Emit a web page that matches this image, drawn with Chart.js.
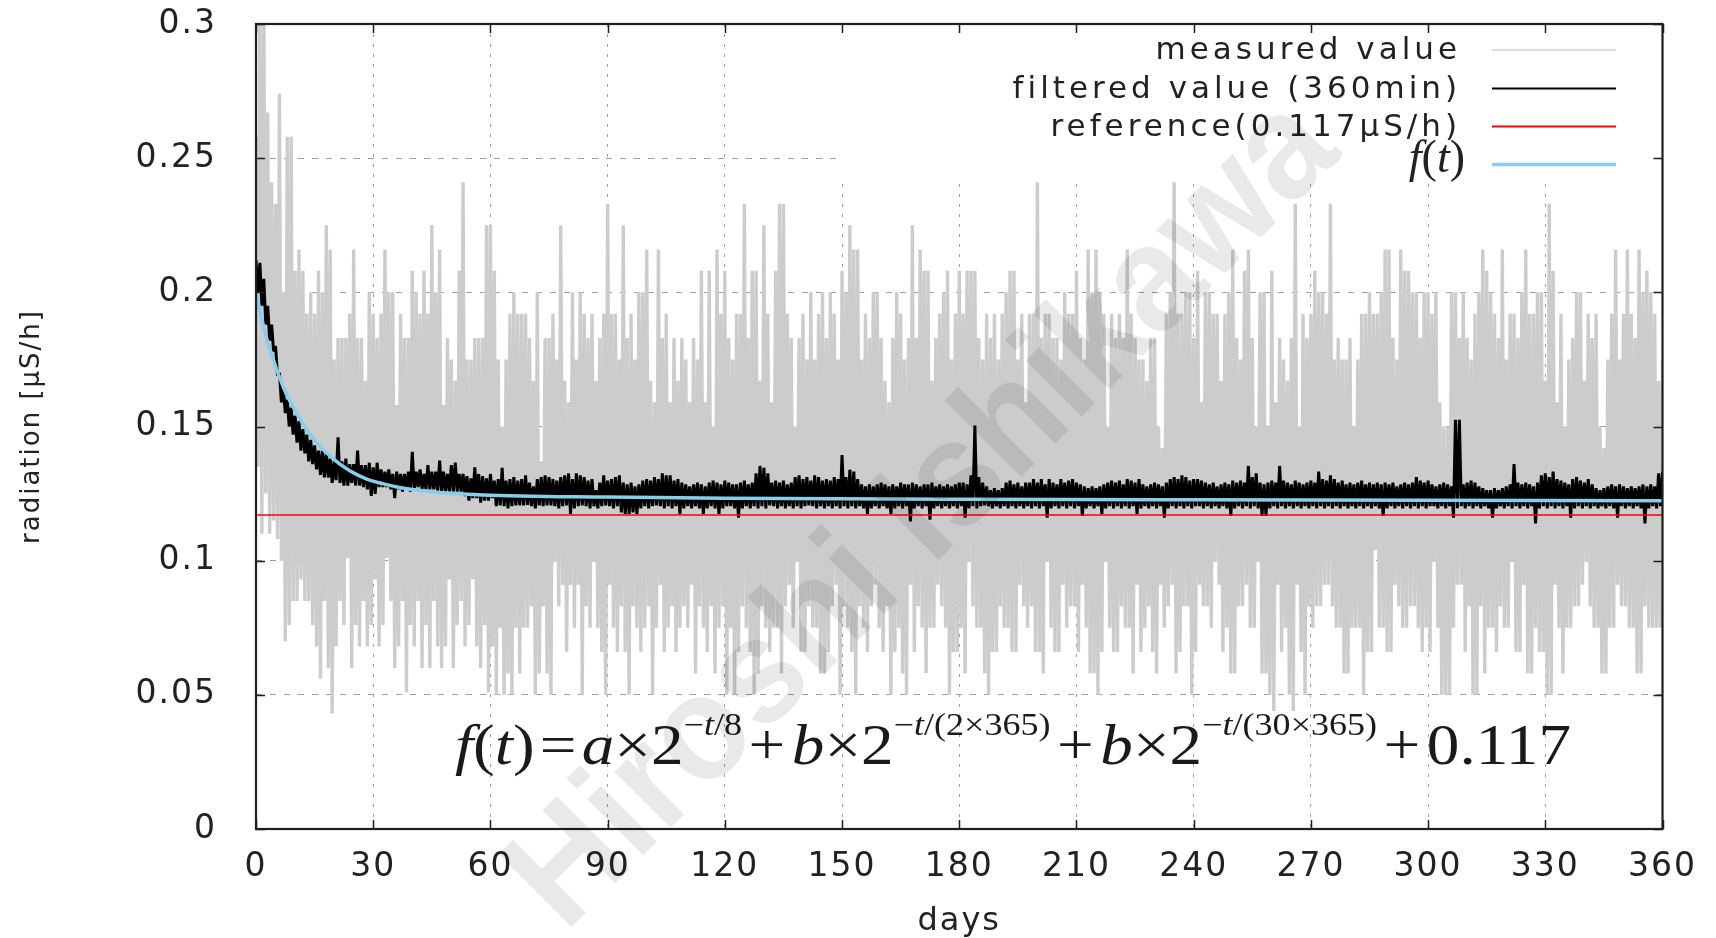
<!DOCTYPE html>
<html><head><meta charset="utf-8">
<script src="https://cdn.jsdelivr.net/npm/chart.js@4.4.1/dist/chart.umd.min.js"></script>
<style>html,body{margin:0;padding:0;background:#fff}canvas{display:block}</style>
</head><body>
<canvas id="c" width="1716" height="938"></canvas>
<script>
// ---------- data ----------
const xTickValues = [0,30,60,90,120,150,180,210,240,270,300,330,360];
const xTickLabels = ['0','30','60','90','120','150','180','210','240','270','300','330','360'];
const yTickValues = [0,0.05,0.1,0.15,0.2,0.25,0.3];
const yTickLabels = ['0','0.05','0.1','0.15','0.2','0.25','0.3'];
const seriesLabels = ['measured value','filtered value (360min)','reference(0.117\u03bcS/h)','f(t)'];
const xTitle = 'days';
const yTitle = 'radiation [\u03bcS/h]';
const watermarkText = 'Hiroshi Ishikawa';
const referenceValue = 0.117;

// measured value: daily maximum / minimum (days 0..360)
const measuredHigh = [
0.258,0.31,0.31,0.267,0.241,0.233,0.274,0.2,0.258,0.258,
0.208,0.216,0.208,0.192,0.2,0.192,0.208,0.2,0.225,0.216,
0.175,0.183,0.183,0.183,0.192,0.216,0.183,0.183,0.167,0.2,
0.192,0.183,0.192,0.216,0.2,0.2,0.158,0.192,0.183,0.183,
0.208,0.2,0.192,0.208,0.192,0.225,0.2,0.216,0.158,0.183,
0.175,0.167,0.208,0.241,0.175,0.175,0.183,0.183,0.183,0.225,
0.225,0.208,0.175,0.15,0.175,0.192,0.2,0.192,0.192,0.192,
0.183,0.167,0.2,0.137,0.183,0.183,0.192,0.175,0.225,0.167,
0.159,0.2,0.175,0.2,0.192,0.183,0.192,0.167,0.183,0.192,
0.233,0.192,0.192,0.175,0.225,0.183,0.192,0.175,0.2,0.2,
0.216,0.167,0.159,0.216,0.183,0.192,0.159,0.183,0.167,0.183,
0.175,0.159,0.183,0.175,0.208,0.159,0.208,0.15,0.216,0.192,
0.208,0.183,0.175,0.192,0.192,0.233,0.183,0.208,0.208,0.167,
0.225,0.192,0.159,0.208,0.233,0.233,0.192,0.183,0.15,0.183,
0.192,0.175,0.2,0.175,0.192,0.2,0.183,0.2,0.192,0.175,
0.208,0.2,0.225,0.216,0.216,0.175,0.192,0.183,0.2,0.2,
0.183,0.167,0.159,0.183,0.2,0.192,0.175,0.183,0.225,0.183,
0.216,0.208,0.208,0.167,0.183,0.192,0.2,0.208,0.175,0.192,
0.208,0.192,0.208,0.208,0.208,0.183,0.175,0.192,0.183,0.192,
0.175,0.192,0.2,0.208,0.208,0.175,0.192,0.159,0.192,0.192,
0.241,0.183,0.192,0.192,0.183,0.183,0.175,0.2,0.192,0.192,
0.208,0.183,0.175,0.216,0.2,0.216,0.2,0.192,0.15,0.192,
0.183,0.192,0.183,0.216,0.192,0.183,0.175,0.175,0.167,0.183,
0.183,0.15,0.142,0.192,0.2,0.241,0.192,0.192,0.2,0.2,
0.183,0.208,0.159,0.2,0.2,0.192,0.192,0.167,0.192,0.2,
0.216,0.183,0.175,0.208,0.216,0.183,0.15,0.2,0.2,0.15,
0.208,0.159,0.183,0.175,0.167,0.183,0.233,0.15,0.192,0.183,
0.192,0.208,0.2,0.2,0.192,0.233,0.175,0.183,0.175,0.175,
0.183,0.15,0.175,0.192,0.192,0.2,0.192,0.192,0.2,0.216,
0.216,0.183,0.175,0.216,0.208,0.208,0.2,0.2,0.183,0.2,
0.2,0.192,0.2,0.159,0.15,0.15,0.2,0.2,0.183,0.2,
0.183,0.175,0.192,0.2,0.216,0.208,0.2,0.192,0.183,0.216,
0.175,0.192,0.192,0.183,0.2,0.216,0.192,0.192,0.2,0.2,
0.167,0.233,0.208,0.159,0.192,0.15,0.175,0.183,0.2,0.2,
0.167,0.192,0.183,0.192,0.15,0.142,0.175,0.192,0.216,0.175,
0.192,0.216,0.192,0.183,0.216,0.2,0.208,0.2,0.192,0.167,
0.175];
const measuredLow = [
0.135,0.11,0.125,0.11,0.115,0.108,0.1,0.07,0.076,0.085,
0.085,0.093,0.085,0.085,0.076,0.068,0.056,0.085,0.06,0.043,
0.068,0.085,0.076,0.101,0.06,0.076,0.068,0.085,0.068,0.076,
0.093,0.068,0.076,0.101,0.085,0.06,0.068,0.085,0.051,0.076,
0.068,0.085,0.06,0.076,0.06,0.085,0.068,0.06,0.068,0.093,
0.06,0.076,0.085,0.068,0.076,0.093,0.068,0.06,0.076,0.051,
0.068,0.05,0.075,0.05,0.058,0.05,0.075,0.058,0.075,0.075,
0.083,0.05,0.058,0.083,0.058,0.05,0.0995,0.083,0.091,0.066,
0.091,0.075,0.091,0.05,0.083,0.075,0.0995,0.075,0.066,0.05,
0.091,0.075,0.066,0.083,0.066,0.05,0.083,0.075,0.066,0.075,
0.083,0.05,0.075,0.091,0.066,0.075,0.083,0.066,0.075,0.083,
0.075,0.091,0.058,0.083,0.075,0.066,0.083,0.058,0.075,0.083,
0.05,0.075,0.05,0.066,0.083,0.075,0.066,0.05,0.058,0.083,
0.075,0.066,0.075,0.075,0.058,0.083,0.091,0.075,0.0995,0.066,
0.066,0.083,0.075,0.075,0.058,0.058,0.066,0.083,0.091,0.05,
0.083,0.075,0.066,0.05,0.083,0.075,0.066,0.083,0.091,0.075,
0.066,0.083,0.05,0.066,0.075,0.058,0.05,0.091,0.066,0.083,
0.075,0.058,0.075,0.075,0.091,0.083,0.075,0.05,0.066,0.066,
0.075,0.058,0.0995,0.083,0.075,0.075,0.058,0.05,0.066,0.066,
0.083,0.075,0.075,0.066,0.066,0.091,0.083,0.075,0.083,0.066,
0.066,0.058,0.0995,0.075,0.066,0.066,0.091,0.075,0.083,0.083,
0.066,0.091,0.075,0.058,0.058,0.05,0.066,0.0995,0.075,0.066,
0.066,0.083,0.075,0.075,0.058,0.091,0.066,0.075,0.083,0.066,
0.058,0.091,0.075,0.083,0.091,0.058,0.066,0.083,0.083,0.05,
0.066,0.091,0.083,0.083,0.075,0.0995,0.091,0.066,0.075,0.058,
0.058,0.083,0.083,0.091,0.075,0.075,0.0995,0.058,0.058,0.05,
0.044,0.091,0.066,0.075,0.05,0.044,0.091,0.066,0.05,0.083,
0.075,0.083,0.083,0.091,0.091,0.083,0.075,0.075,0.058,0.058,
0.075,0.075,0.075,0.05,0.066,0.066,0.104,0.075,0.075,0.066,
0.066,0.091,0.083,0.075,0.075,0.083,0.083,0.075,0.066,0.075,
0.066,0.0995,0.075,0.05,0.05,0.05,0.075,0.091,0.091,0.066,
0.083,0.05,0.05,0.083,0.058,0.075,0.075,0.066,0.083,0.075,
0.075,0.0995,0.066,0.066,0.091,0.058,0.058,0.075,0.066,0.066,
0.05,0.05,0.091,0.075,0.058,0.075,0.075,0.083,0.083,0.091,
0.0995,0.083,0.075,0.075,0.058,0.058,0.075,0.075,0.091,0.083,
0.083,0.075,0.075,0.058,0.058,0.083,0.075,0.075,0.075,0.075,
0.075];

// filtered value (360min): daily maximum / minimum
const filteredHigh = [
0.212,0.211,0.205,0.195,0.188,0.18,0.17,0.164,0.16,0.157,
0.154,0.152,0.149,0.147,0.145,0.143,0.141,0.141,0.14,0.138,
0.137,0.146,0.137,0.138,0.136,0.136,0.141,0.1356,0.1356,0.1365,
0.1348,0.1365,0.134,0.1332,0.134,0.1323,0.1332,0.1323,0.1323,0.1332,
0.1406,0.1332,0.134,0.1323,0.1356,0.1332,0.1332,0.1373,0.1332,0.1323,
0.1356,0.1365,0.1323,0.1323,0.1315,0.1307,0.1348,0.1323,0.1315,0.1307,
0.1323,0.1298,0.1304,0.1346,0.1298,0.1304,0.1311,0.1298,0.1304,0.1318,
0.1291,0.1277,0.1304,0.1311,0.1318,0.1311,0.1304,0.1298,0.1311,0.1318,
0.1325,0.1304,0.1325,0.1318,0.1311,0.1298,0.1304,0.1263,0.1291,0.1318,
0.1298,0.1304,0.1311,0.1318,0.1291,0.1284,0.1291,0.1277,0.1284,0.1298,
0.1304,0.1298,0.1311,0.1304,0.1325,0.1318,0.1318,0.1298,0.1304,0.1291,
0.1284,0.1277,0.1284,0.1291,0.1284,0.1277,0.1291,0.1298,0.1291,0.1284,
0.1298,0.1291,0.1284,0.1284,0.1291,0.1298,0.1284,0.1291,0.1325,0.1353,
0.1346,0.1325,0.1291,0.1298,0.1291,0.1298,0.1284,0.1291,0.1311,0.1318,
0.1304,0.1311,0.1298,0.1318,0.1311,0.1298,0.1304,0.1298,0.1311,0.1304,
0.1394,0.1311,0.1339,0.1332,0.1304,0.1284,0.1277,0.1284,0.1277,0.1284,
0.1291,0.1284,0.1277,0.1284,0.1277,0.1291,0.1284,0.1284,0.1291,0.1284,
0.1277,0.1284,0.1284,0.1291,0.1277,0.1284,0.1277,0.1284,0.1277,0.1284,
0.1291,0.1291,0.1284,0.1318,0.1504,0.1311,0.1291,0.1277,0.1263,0.127,
0.1263,0.127,0.1291,0.1298,0.1284,0.1291,0.1277,0.1291,0.1291,0.1304,
0.1291,0.1304,0.1284,0.1304,0.1291,0.1284,0.1304,0.1291,0.1298,0.1304,
0.1291,0.1284,0.1277,0.127,0.1277,0.127,0.1277,0.1284,0.1291,0.1298,
0.1291,0.1298,0.1284,0.1304,0.1298,0.1291,0.1304,0.1284,0.1277,0.1284,
0.1291,0.1284,0.1277,0.1291,0.1304,0.1311,0.1304,0.1318,0.1311,0.1298,
0.1304,0.1304,0.1298,0.1291,0.1284,0.1291,0.1277,0.1284,0.1291,0.1284,
0.1298,0.1291,0.1298,0.1291,0.1353,0.1311,0.1325,0.1291,0.1284,0.1291,
0.1298,0.1291,0.1353,0.1298,0.1291,0.1284,0.1298,0.1291,0.1284,0.1291,
0.1298,0.1291,0.1332,0.1304,0.1298,0.1318,0.1304,0.1291,0.1298,0.1284,
0.1291,0.1284,0.1291,0.1298,0.1284,0.1291,0.1284,0.1291,0.1284,0.1291,
0.1284,0.1291,0.1277,0.1284,0.1291,0.1284,0.1291,0.1311,0.1298,0.1291,
0.1298,0.1284,0.1277,0.1284,0.1291,0.1284,0.1277,0.1525,0.1525,0.1284,
0.1291,0.1298,0.1291,0.1277,0.127,0.1263,0.1263,0.127,0.1263,0.127,
0.1277,0.1284,0.136,0.1291,0.1284,0.1291,0.1284,0.1277,0.1291,0.1318,
0.1325,0.1311,0.1332,0.1304,0.1298,0.1291,0.1284,0.1304,0.1311,0.1298,
0.1291,0.1304,0.1284,0.127,0.1263,0.127,0.1277,0.1284,0.1277,0.1284,
0.1277,0.127,0.1277,0.127,0.1277,0.1284,0.1277,0.1284,0.1277,0.1325,
0.1332];
const filteredLow = [
0.2,0.195,0.188,0.182,0.178,0.169,0.159,0.155,0.15,0.147,
0.144,0.141,0.14,0.137,0.136,0.134,0.132,0.131,0.131,0.129,
0.13,0.129,0.128,0.128,0.129,0.128,0.128,0.1274,0.1266,0.1241,
0.1249,0.1274,0.1274,0.1274,0.1266,0.1233,0.1266,0.1257,0.1266,0.1257,
0.1266,0.1274,0.1266,0.1266,0.1266,0.1266,0.1257,0.1257,0.1257,0.1257,
0.1257,0.1257,0.1257,0.1241,0.1224,0.1233,0.1233,0.1216,0.1224,0.1224,
0.1233,0.1203,0.1206,0.1203,0.1195,0.1203,0.1206,0.1206,0.1206,0.1208,
0.1203,0.1195,0.1206,0.1203,0.1206,0.1206,0.1203,0.1195,0.1203,0.1206,
0.1174,0.1195,0.1203,0.1206,0.1203,0.1195,0.1203,0.1195,0.1203,0.1206,
0.1203,0.1195,0.1203,0.118,0.1174,0.1174,0.118,0.1174,0.1195,0.1203,
0.1195,0.1203,0.1206,0.1203,0.1195,0.1203,0.1195,0.1203,0.1174,0.1195,
0.1203,0.1195,0.1203,0.1195,0.1174,0.1195,0.1203,0.1195,0.1174,0.1195,
0.1203,0.1203,0.1195,0.116,0.1195,0.1203,0.1195,0.1203,0.1195,0.1203,
0.1195,0.1206,0.1203,0.1195,0.1203,0.1195,0.1203,0.1195,0.1203,0.1195,
0.1203,0.1206,0.1203,0.1195,0.1203,0.1195,0.1203,0.1195,0.1203,0.1195,
0.1203,0.1195,0.1203,0.1195,0.1203,0.1195,0.1174,0.1195,0.1203,0.1195,
0.1203,0.1195,0.1174,0.1195,0.1203,0.1195,0.1203,0.1146,0.1195,0.1203,
0.1195,0.1203,0.1153,0.1195,0.1203,0.1195,0.1203,0.1195,0.1203,0.1195,
0.1203,0.116,0.1195,0.1203,0.1195,0.1203,0.1206,0.1203,0.1195,0.1203,
0.1195,0.1203,0.1195,0.1203,0.1195,0.1203,0.1195,0.1203,0.1195,0.1203,
0.1195,0.1203,0.116,0.1195,0.1203,0.1195,0.1203,0.1195,0.1203,0.1195,
0.1203,0.1167,0.1195,0.1203,0.1195,0.1203,0.1174,0.1195,0.1203,0.1195,
0.1203,0.1195,0.1203,0.1195,0.1203,0.1174,0.1195,0.1203,0.1195,0.1203,
0.1195,0.1203,0.116,0.1195,0.1203,0.1195,0.1203,0.1195,0.1203,0.1195,
0.1203,0.1203,0.1195,0.1203,0.1195,0.1203,0.1195,0.1203,0.1195,0.1167,
0.1195,0.1203,0.1195,0.1203,0.1195,0.1203,0.1195,0.1167,0.1167,0.1195,
0.1203,0.1195,0.1203,0.1195,0.1203,0.1195,0.1203,0.1195,0.1203,0.1195,
0.1203,0.1195,0.1203,0.1195,0.1203,0.1195,0.1203,0.1195,0.1203,0.1195,
0.1203,0.1195,0.1203,0.1195,0.1203,0.1195,0.1203,0.1195,0.1167,0.1195,
0.1203,0.1195,0.1203,0.1195,0.1203,0.1195,0.1203,0.1195,0.1203,0.1195,
0.1203,0.1203,0.1195,0.1203,0.1195,0.1203,0.116,0.1195,0.1203,0.1195,
0.1203,0.1195,0.1203,0.1195,0.1203,0.1195,0.116,0.1195,0.1203,0.1195,
0.1203,0.1195,0.1203,0.1195,0.1203,0.1195,0.1203,0.1139,0.1195,0.1203,
0.1195,0.1203,0.1195,0.1203,0.1195,0.1203,0.116,0.1195,0.1203,0.1195,
0.1203,0.1195,0.1203,0.1195,0.1203,0.1195,0.1203,0.1195,0.116,0.1203,
0.1195,0.1203,0.1195,0.1203,0.1195,0.1139,0.1195,0.1203,0.1195,0.1203,
0.1206];

// f(t) curve
const fitDays   = [0,1,2.7,4.4,6.1,7.8,10.4,12.9,15.5,19.7,24,28.2,32.4,36.7,45,58,90,120,180,240,300,360];
const fitValues = [0.2,0.193,0.183,0.175,0.168,0.162,0.155,0.149,0.144,0.138,0.1335,0.1305,0.1287,0.1273,0.1257,0.1245,0.1237,0.1233,0.1229,0.1227,0.1225,0.1223];

// ---------- helpers ----------
function zigzag(high, low){
  const pts = [];
  for (let d = 0; d < high.length; d++){
    pts.push({x: d, y: high[d]});
    if (d < high.length - 1) pts.push({x: d + 0.5, y: low[d]});
  }
  return pts;
}
const SANS = '"DejaVu Sans", "Liberation Sans", sans-serif';
const SERIF = '"Liberation Serif", "DejaVu Serif", serif';
const TXT = '#222';

const spacingPlugin = {
  id: 'spacing',
  beforeUpdate(chart){ chart.ctx.letterSpacing = '2px'; },
  beforeDraw(chart){ chart.ctx.letterSpacing = '2px'; }
};

const keyBgPlugin = {
  id: 'keybg',
  beforeDatasetsDraw(chart){
    const {ctx, chartArea: a} = chart;
    ctx.save(); ctx.fillStyle = '#fff';
    ctx.fillRect(838, a.top + 1, a.right - 839, 156);
    ctx.restore();
  }
};

const framePlugin = {
  id: 'frame',
  afterDatasetsDraw(chart){
    const {ctx, chartArea: a, scales: {x, y}} = chart;
    ctx.save();
    ctx.strokeStyle = '#1e1e1e';
    ctx.lineWidth = 1.5;
    ctx.beginPath();
    xTickValues.forEach(v => {
      const p = Math.round(x.getPixelForValue(v)) + 0.5;
      ctx.moveTo(p, a.bottom); ctx.lineTo(p, a.bottom - 9);
      ctx.moveTo(p, a.top); ctx.lineTo(p, a.top + 9);
    });
    yTickValues.forEach(v => {
      const p = Math.round(y.getPixelForValue(v)) + 0.5;
      ctx.moveTo(a.left, p); ctx.lineTo(a.left + 9, p);
      ctx.moveTo(a.right, p); ctx.lineTo(a.right - 9, p);
    });
    ctx.stroke();
    ctx.lineWidth = 2.2;
    ctx.strokeRect(a.left, a.top, a.right - a.left, a.bottom - a.top);
    ctx.restore();
  }
};

const legendPlugin = {
  id: 'keylegend',
  afterDatasetsDraw(chart){
    const ctx = chart.ctx;
    const rows = [50, 88.5, 126.5, 164.5];
    const widths = [1.7, 2, 2, 3.5];
    ctx.save();
    chart.data.datasets.forEach((ds, i) => {
      ctx.strokeStyle = i === 0 ? '#d2d2d2' : ds.borderColor;
      ctx.lineWidth = widths[i];
      ctx.beginPath(); ctx.moveTo(1492, rows[i]); ctx.lineTo(1616, rows[i]); ctx.stroke();
      ctx.fillStyle = TXT;
      ctx.textBaseline = 'alphabetic';
      if (i < 3){
        ctx.letterSpacing = '4px';
        ctx.font = '31px ' + SANS;
        ctx.textAlign = 'right';
        ctx.fillText(ds.label, 1461, rows[i] + 9);
      } else {
        ctx.letterSpacing = '0px';
        const runs = [{t:'f', it:true},{t:'('},{t:'t', it:true},{t:')'}];
        let w = 0;
        runs.forEach(r => { ctx.font = (r.it ? 'italic ' : '') + '46px ' + SERIF; r.w = ctx.measureText(r.t).width; w += r.w; });
        let xx = 1465 - w;
        ctx.textAlign = 'left';
        runs.forEach(r => { ctx.font = (r.it ? 'italic ' : '') + '46px ' + SERIF; ctx.fillText(r.t, xx, 172); xx += r.w; });
      }
    });
    ctx.restore();
  }
};

const formulaPlugin = {
  id: 'formula',
  afterDatasetsDraw(chart){
    const ctx = chart.ctx;
    ctx.save();
    ctx.letterSpacing = '0px';
    const MAIN = 56, SUP = 31, RISE = 29;
    const runs = [
      {t:'f',it:1},{t:'('},{t:'t',it:1},{t:')'},{t:'=',pad:0.08},{t:'a',it:1},{t:'\u00d7'},{t:'2'},
      {t:'\u2212',s:1},{t:'t',it:1,s:1},{t:'/8',s:1},
      {t:'+',pad:0.1},{t:'b',it:1},{t:'\u00d7'},{t:'2'},
      {t:'\u2212',s:1},{t:'t',it:1,s:1},{t:'/(2\u00d7365)',s:1},
      {t:'+',pad:0.1},{t:'b',it:1},{t:'\u00d7'},{t:'2'},
      {t:'\u2212',s:1},{t:'t',it:1,s:1},{t:'/(30\u00d7365)',s:1},
      {t:'+',pad:0.1},{t:'0.117'}
    ];
    const fnt = r => (r.it ? 'italic ' : '') + (r.s ? SUP : MAIN) + 'px ' + SERIF;
    let total = 0;
    runs.forEach(r => { ctx.font = fnt(r); r.w = ctx.measureText(r.t).width; r.p = (r.pad || 0) * MAIN; total += r.w + 2 * r.p; });
    const x0 = 455, target = 1116, base = 764;
    ctx.translate(x0, base);
    ctx.scale(target / total, 1);
    ctx.fillStyle = '#1a1a1a';
    ctx.textBaseline = 'alphabetic';
    ctx.textAlign = 'left';
    let xx = 0;
    runs.forEach(r => { xx += r.p; ctx.font = fnt(r); ctx.fillText(r.t, xx, r.s ? -RISE : 0); xx += r.w + r.p; });
    ctx.restore();
  }
};

const watermarkPlugin = {
  id: 'watermark',
  afterDraw(chart){
    const ctx = chart.ctx;
    ctx.save();
    ctx.letterSpacing = '0px';
    ctx.translate(925, 515);
    ctx.rotate(-Math.PI / 4);
    ctx.scale(0.93, 1);
    ctx.font = 'bold 150px "Liberation Sans", sans-serif';
    ctx.fillStyle = 'rgba(0,0,0,0.085)';
    ctx.textAlign = 'center';
    ctx.textBaseline = 'middle';
    ctx.fillText(watermarkText, 0, 0);
    ctx.restore();
  }
};

const lineCommon = {pointRadius: 0, borderJoinStyle: 'bevel', tension: 0, clip: 0, fill: false};

new Chart(document.getElementById('c').getContext('2d'), {
  type: 'line',
  data: {
    datasets: [
      Object.assign({label: seriesLabels[0], data: zigzag(measuredHigh, measuredLow), borderColor: '#cccccc', borderWidth: 3.4, order: 4}, lineCommon),
      Object.assign({label: seriesLabels[1], data: zigzag(filteredHigh, filteredLow), borderColor: '#000000', borderWidth: 3, order: 3}, lineCommon),
      Object.assign({label: seriesLabels[2], data: [{x: 0, y: referenceValue}, {x: 360, y: referenceValue}], borderColor: '#ff0000', borderWidth: 1.6, order: 2}, lineCommon),
      Object.assign({}, lineCommon, {label: seriesLabels[3], data: fitDays.map((d, i) => ({x: d, y: fitValues[i]})), borderColor: '#87ceeb', borderWidth: 3.5, cubicInterpolationMode: 'monotone', borderJoinStyle: 'round', order: 1})
    ]
  },
  options: {
    responsive: false,
    animation: false,
    devicePixelRatio: 1,
    parsing: false,
    layout: {padding: {top: 24, right: 47, bottom: 0, left: 0}},
    plugins: {legend: {display: false}, tooltip: {enabled: false}},
    scales: {
      x: {
        type: 'linear', min: 0, max: 360,
        afterBuildTicks: s => { s.ticks = xTickValues.map(v => ({value: v})); },
        afterFit: s => { s.height = 109; },
        ticks: {autoSkip: false, maxRotation: 0, padding: 19, color: TXT, font: {family: SANS, size: 33},
                callback: (v, i) => xTickLabels[i]},
        grid: {color: '#9c9c9c', lineWidth: 1, drawTicks: false},
        border: {display: false, dash: [3, 7]},
        title: {display: true, text: xTitle, color: TXT, font: {family: SANS, size: 32, lineHeight: 1.05}, padding: {top: 0, bottom: 0}}
      },
      y: {
        type: 'linear', min: 0, max: 0.3,
        afterBuildTicks: s => { s.ticks = yTickValues.map(v => ({value: v})); },
        afterFit: s => { s.width = 256; s.paddingTop = 0; s.paddingBottom = 0; },
        ticks: {padding: 39, color: TXT, font: {family: SANS, size: 33},
                callback: (v, i) => yTickLabels[i]},
        grid: {color: '#9c9c9c', lineWidth: 1, drawTicks: false},
        border: {display: false, dash: [6, 8]},
        title: {display: true, text: yTitle, color: TXT, font: {family: SANS, size: 26}, padding: {top: 17, bottom: 0}}
      }
    }
  },
  plugins: [spacingPlugin, keyBgPlugin, framePlugin, legendPlugin, formulaPlugin, watermarkPlugin]
});
</script>
</body></html>
